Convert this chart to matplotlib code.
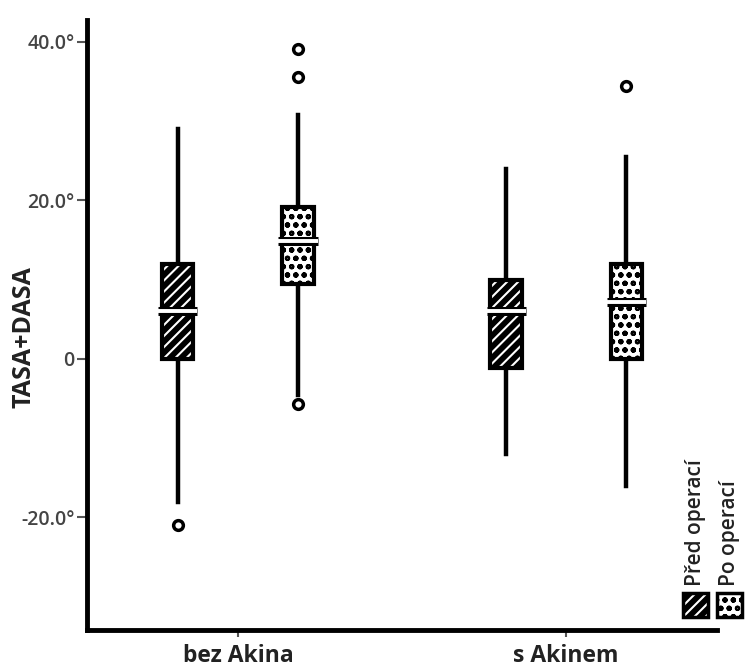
import matplotlib.pyplot as plt
import matplotlib.patheffects as pe
from matplotlib.colors import to_rgba
from matplotlib.patches import Rectangle

plt.rcParams['font.family'] = ['Open Sans', 'DejaVu Sans']
plt.rcParams['hatch.linewidth'] = 1.5

groups = ['bez Akina', 's Akinem']
series = ['Před operací', 'Po operací']

# one entry per box: bez Akina/Před, bez Akina/Po, s Akinem/Před, s Akinem/Po
q1 = [0.0, 9.5, -1.1, 0.0]
med = [6.0, 14.8, 6.0, 7.2]
q3 = [12.0, 19.2, 10.0, 12.0]
whislo = [-18.0, -4.5, -12.0, -16.0]
whishi = [29.0, 30.8, 24.0, 25.5]
fliers = [[-21.0], [39.1, 35.6, -5.7], [], [34.4]]

yticks = [-20, 0, 20, 40]
ytick_labels = ['-20.0°', '0', '20.0°', '40.0°']

stats = []
for i in range(4):
    stats.append(dict(q1=q1[i], med=med[i], q3=q3[i], whislo=whislo[i],
                      whishi=whishi[i], fliers=fliers[i]))

fig = plt.figure(figsize=(7.51, 6.69), dpi=100)
ax = fig.add_axes([0.1158, 0.0583, 0.839, 0.912])

off = 0.183
pos = [0 - off, 0 + off, 1 - off, 1 + off]
bp = ax.bxp(stats, positions=pos, widths=0.095, patch_artist=True, showcaps=False,
            boxprops=dict(linewidth=3, edgecolor='black'),
            whiskerprops=dict(linewidth=3.2, color='black'),
            medianprops=dict(linewidth=2.8, color='white',
                             path_effects=[pe.Stroke(linewidth=6.5, foreground='black'), pe.Normal()]),
            flierprops=dict(marker='o', markerfacecolor='none', markeredgecolor='black',
                            markeredgewidth=2.5, markersize=7))

# (face, hatch colour, hatch) for Před / Po
styles = [('black', 'white', '///'), ('white', 'black', 'oo')]
for i, box in enumerate(bp['boxes']):
    fc, hc, h = styles[i % 2]
    box.set_facecolor(fc)
    box.set_hatch(h)
    box._hatch_color = to_rgba(hc)
    box.set_zorder(3)
for m in bp['medians']:
    m.set_zorder(4)
    x0, x1 = m.get_xdata()
    m.set_xdata([x0 - 0.012, x1 + 0.012])

ax.set_xlim(-0.46, 1.46)
ax.set_ylim(-34.2, 42.75)
ax.set_xticks([0, 1])
ax.set_xticklabels(groups, fontsize=16.5, fontweight='bold', color='#222222')
ax.tick_params(axis='x', length=5, width=1.5, color='#555555', pad=5)
ax.set_yticks(yticks)
ax.set_yticklabels(ytick_labels, fontsize=14, fontweight='semibold', color='#444444')
ax.tick_params(axis='y', length=7, width=1.5, color='#555555', pad=2)
ax.set_ylabel('TASA+DASA', fontsize=18, fontweight='bold', color='#222222')
ax.yaxis.set_label_coords(-0.08, 0.48)

for s in ['top', 'right']:
    ax.spines[s].set_visible(False)
for s in ['left', 'bottom']:
    ax.spines[s].set_linewidth(3.5)

# legend drawn vertically at bottom right
W, H = 751, 669
legend_x = [683, 717]
for i, name in enumerate(series):
    fc, hc, h = styles[i]
    r = Rectangle((legend_x[i] / W, (H - 617) / H), 25 / W, 24 / H, transform=fig.transFigure,
                  facecolor=fc, edgecolor='black', linewidth=2.5, hatch=h)
    r._hatch_color = to_rgba(hc)
    fig.patches.append(r)
    fig.text((legend_x[i] + 12.5) / W, (H - 586) / H, name, rotation=90, ha='center', va='bottom',
             fontsize=15, fontweight='semibold', color='#222222')

fig.savefig('out.png', dpi=100)
